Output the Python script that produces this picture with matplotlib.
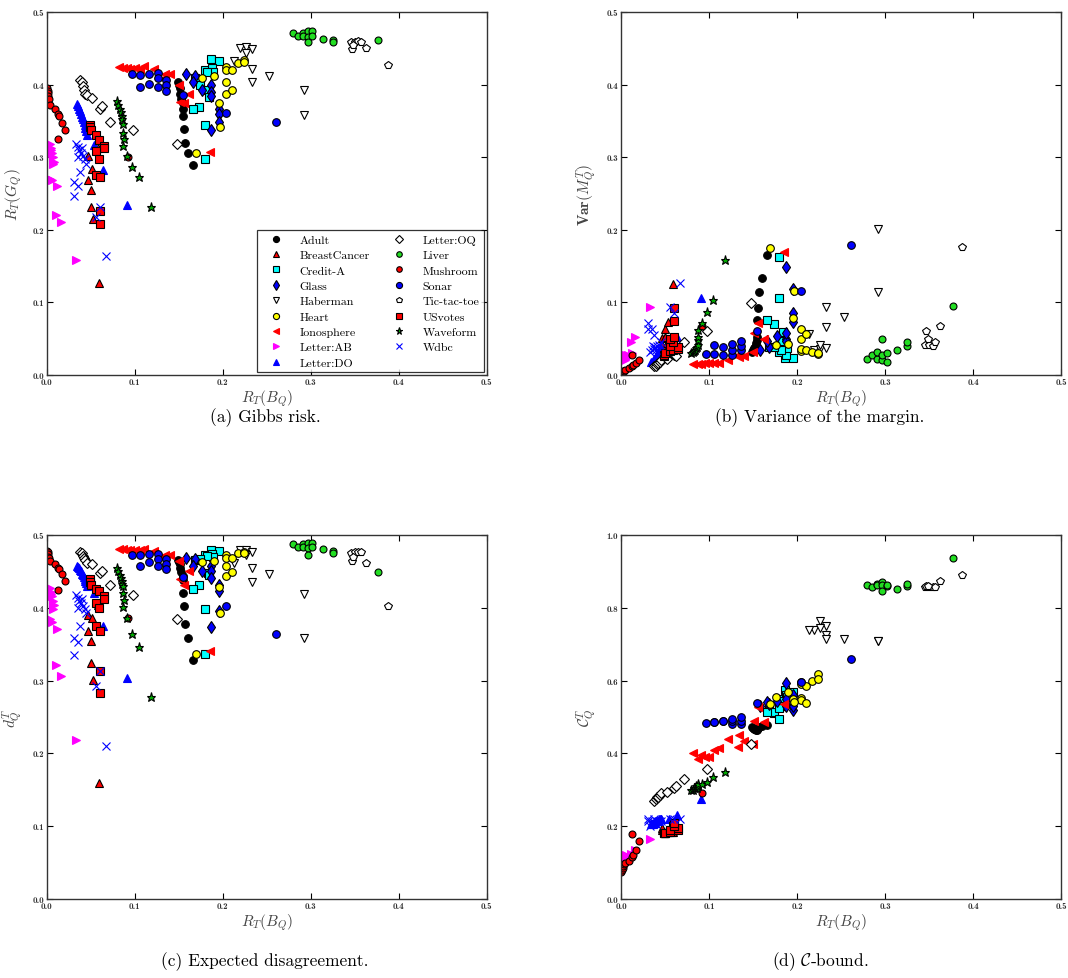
import matplotlib
matplotlib.use('Agg')
import matplotlib.pyplot as plt
from matplotlib.ticker import FormatStrFormatter, MultipleLocator

plt.rcParams['font.family'] = 'serif'
plt.rcParams['font.serif'] = ['cmr10']
plt.rcParams['mathtext.fontset'] = 'cm'
plt.rcParams['axes.unicode_minus'] = False
plt.rcParams['axes.formatter.use_mathtext'] = True

# per dataset: x = R_T(B_Q), g = Gibbs risk, v = margin variance,
# d = expected disagreement, c = C-bound
x_adult = [0.149, 0.150, 0.151, 0.152, 0.153, 0.1546, 0.1546, 0.155, 0.156, 0.157, 0.160, 0.166]
g_adult = [0.404, 0.400, 0.396, 0.387, 0.380, 0.374, 0.367, 0.357, 0.339, 0.320, 0.306, 0.2895]
v_adult = [0.031, 0.034, 0.037, 0.039, 0.044, 0.048, 0.053, 0.076, 0.092, 0.114, 0.133, 0.165]
d_adult = [0.466, 0.463, 0.460, 0.455, 0.449, 0.444, 0.438, 0.421, 0.402, 0.378, 0.358, 0.328]
c_adult = [0.473, 0.470, 0.468, 0.466, 0.465, 0.465, 0.466, 0.468, 0.470, 0.472, 0.475, 0.478]

x_breast = [0.047, 0.052, 0.058, 0.047, 0.050, 0.050, 0.053, 0.059]
g_breast = [0.302, 0.284, 0.312, 0.269, 0.255, 0.232, 0.215, 0.127]
v_breast = [0.042, 0.044, 0.030, 0.051, 0.052, 0.063, 0.073, 0.126]
d_breast = [0.390, 0.386, 0.404, 0.368, 0.354, 0.324, 0.301, 0.159]
c_breast = [0.190, 0.185, 0.185, 0.195, 0.180, 0.180, 0.183, 0.184]

x_credit = [0.1864, 0.196, 0.180, 0.1875, 0.189, 0.182, 0.1686, 0.1742, 0.183, 0.184, 0.1735, 0.166, 0.180, 0.180]
g_credit = [0.435, 0.433, 0.420, 0.423, 0.417, 0.418, 0.409, 0.399, 0.392, 0.383, 0.369, 0.367, 0.345, 0.297]
v_credit = [0.023, 0.024, 0.031, 0.028, 0.037, 0.034, 0.038, 0.038, 0.047, 0.059, 0.070, 0.076, 0.106, 0.163]
d_credit = [0.480, 0.478, 0.472, 0.474, 0.470, 0.471, 0.466, 0.467, 0.448, 0.445, 0.432, 0.426, 0.399, 0.337]
c_credit = [0.575, 0.570, 0.550, 0.560, 0.555, 0.545, 0.520, 0.510, 0.530, 0.530, 0.515, 0.515, 0.525, 0.494]

x_glass = [0.158, 0.168, 0.166, 0.177, 0.187, 0.187, 0.187, 0.196, 0.196, 0.196, 0.187]
g_glass = [0.414, 0.412, 0.404, 0.392, 0.399, 0.390, 0.384, 0.367, 0.360, 0.348, 0.338]
v_glass = [0.035, 0.038, 0.047, 0.054, 0.050, 0.047, 0.058, 0.073, 0.086, 0.119, 0.149]
d_glass = [0.468, 0.467, 0.458, 0.450, 0.457, 0.450, 0.441, 0.432, 0.423, 0.395, 0.373]
c_glass = [0.530, 0.535, 0.540, 0.545, 0.535, 0.530, 0.550, 0.520, 0.530, 0.560, 0.593]

x_haberman = [0.2197, 0.2265, 0.233, 0.2265, 0.2133, 0.233, 0.233, 0.253, 0.2925, 0.2925]
g_haberman = [0.450, 0.452, 0.4485, 0.443, 0.4325, 0.422, 0.404, 0.412, 0.392, 0.3575]
v_haberman = [0.035, 0.036, 0.037, 0.042, 0.057, 0.066, 0.093, 0.080, 0.115, 0.201]
d_haberman = [0.480, 0.480, 0.477, 0.472, 0.462, 0.455, 0.436, 0.446, 0.419, 0.359]
c_haberman = [0.740, 0.765, 0.750, 0.745, 0.740, 0.725, 0.715, 0.715, 0.710, 0.708]

x_heart = [0.176, 0.190, 0.204, 0.204, 0.210, 0.217, 0.224, 0.224, 0.204, 0.204, 0.210, 0.196, 0.197, 0.1697]
g_heart = [0.409, 0.412, 0.424, 0.420, 0.420, 0.430, 0.434, 0.431, 0.404, 0.387, 0.3925, 0.374, 0.342, 0.306]
v_heart = [0.042, 0.043, 0.033, 0.036, 0.035, 0.031, 0.029, 0.030, 0.050, 0.063, 0.057, 0.079, 0.116, 0.175]
d_heart = [0.463, 0.464, 0.472, 0.469, 0.469, 0.475, 0.477, 0.475, 0.457, 0.443, 0.449, 0.429, 0.393, 0.337]
c_heart = [0.555, 0.570, 0.596, 0.590, 0.584, 0.600, 0.617, 0.605, 0.552, 0.547, 0.538, 0.550, 0.540, 0.535]

x_iono = [0.082, 0.087, 0.091, 0.095, 0.100, 0.106, 0.111, 0.122, 0.133, 0.1345, 0.140, 0.150, 0.162, 0.1515, 0.156, 0.185]
g_iono = [0.424, 0.423, 0.423, 0.422, 0.423, 0.422, 0.425, 0.422, 0.409, 0.414, 0.414, 0.400, 0.387, 0.376, 0.375, 0.307]
v_iono = [0.015, 0.015, 0.015, 0.016, 0.016, 0.017, 0.016, 0.020, 0.027, 0.025, 0.026, 0.032, 0.049, 0.058, 0.072, 0.170]
d_iono = [0.481, 0.481, 0.480, 0.480, 0.480, 0.479, 0.481, 0.478, 0.470, 0.472, 0.473, 0.464, 0.450, 0.440, 0.432, 0.340]
c_iono = [0.400, 0.385, 0.395, 0.390, 0.390, 0.410, 0.415, 0.440, 0.418, 0.450, 0.435, 0.425, 0.487, 0.490, 0.528, 0.535]

x_ab = [0.004, 0.005, 0.006, 0.007, 0.008, 0.005, 0.007, 0.004, 0.006, 0.012, 0.011, 0.016, 0.033]
g_ab = [0.318, 0.313, 0.306, 0.300, 0.293, 0.310, 0.290, 0.270, 0.268, 0.261, 0.221, 0.211, 0.158]
v_ab = [0.020, 0.022, 0.024, 0.026, 0.028, 0.023, 0.025, 0.025, 0.028, 0.030, 0.045, 0.052, 0.093]
d_ab = [0.427, 0.422, 0.416, 0.410, 0.404, 0.419, 0.399, 0.385, 0.380, 0.371, 0.322, 0.307, 0.219]
c_ab = [0.100, 0.100, 0.105, 0.110, 0.115, 0.105, 0.110, 0.115, 0.120, 0.120, 0.125, 0.135, 0.165]

x_do = [0.034, 0.036, 0.037, 0.038, 0.039, 0.040, 0.041, 0.042, 0.043, 0.044, 0.045, 0.046, 0.054, 0.064, 0.091]
g_do = [0.373, 0.370, 0.367, 0.364, 0.360, 0.356, 0.352, 0.348, 0.344, 0.340, 0.336, 0.330, 0.317, 0.282, 0.234]
v_do = [0.018, 0.019, 0.020, 0.022, 0.024, 0.026, 0.028, 0.030, 0.031, 0.033, 0.035, 0.037, 0.040, 0.053, 0.106]
d_do = [0.458, 0.456, 0.454, 0.452, 0.450, 0.447, 0.445, 0.442, 0.440, 0.437, 0.434, 0.430, 0.420, 0.375, 0.304]
c_do = [0.205, 0.205, 0.210, 0.210, 0.210, 0.215, 0.215, 0.215, 0.220, 0.220, 0.220, 0.220, 0.220, 0.230, 0.276]

x_oq = [0.038, 0.040, 0.041, 0.042, 0.044, 0.046, 0.052, 0.060, 0.0625, 0.072, 0.098, 0.148]
g_oq = [0.407, 0.403, 0.398, 0.393, 0.387, 0.385, 0.381, 0.367, 0.370, 0.348, 0.337, 0.318]
v_oq = [0.012, 0.013, 0.015, 0.016, 0.018, 0.020, 0.022, 0.028, 0.026, 0.046, 0.060, 0.099]
d_oq = [0.477, 0.475, 0.471, 0.468, 0.465, 0.462, 0.460, 0.448, 0.451, 0.431, 0.417, 0.385]
c_oq = [0.270, 0.275, 0.280, 0.280, 0.285, 0.290, 0.295, 0.305, 0.310, 0.330, 0.358, 0.425]

x_liver = [0.2796, 0.2852, 0.291, 0.291, 0.2966, 0.2966, 0.2966, 0.302, 0.302, 0.3137, 0.325, 0.325, 0.377]
g_liver = [0.4715, 0.467, 0.4715, 0.467, 0.4733, 0.4656, 0.4587, 0.4733, 0.467, 0.4633, 0.461, 0.4587, 0.461]
v_liver = [0.022, 0.027, 0.022, 0.031, 0.020, 0.028, 0.050, 0.018, 0.030, 0.034, 0.040, 0.045, 0.095]
d_liver = [0.487, 0.484, 0.487, 0.483, 0.4886, 0.482, 0.472, 0.4886, 0.484, 0.481, 0.478, 0.475, 0.4496]
c_liver = [0.862, 0.858, 0.865, 0.862, 0.870, 0.862, 0.846, 0.860, 0.862, 0.852, 0.860, 0.866, 0.937]

x_mush = [0.000, 0.001, 0.002, 0.002, 0.003, 0.004, 0.0095, 0.013, 0.014, 0.017, 0.021, 0.013, 0.092]
g_mush = [0.395, 0.391, 0.388, 0.384, 0.380, 0.372, 0.366, 0.360, 0.357, 0.347, 0.338, 0.325, 0.300]
v_mush = [0.002, 0.003, 0.004, 0.005, 0.006, 0.007, 0.009, 0.013, 0.014, 0.016, 0.020, 0.027, 0.067]
d_mush = [0.478, 0.476, 0.474, 0.470, 0.468, 0.464, 0.460, 0.455, 0.453, 0.446, 0.437, 0.425, 0.386]
c_mush = [0.075, 0.080, 0.085, 0.090, 0.095, 0.100, 0.105, 0.115, 0.120, 0.135, 0.160, 0.178, 0.292]

x_sonar = [0.0966, 0.106, 0.106, 0.116, 0.116, 0.126, 0.126, 0.126, 0.136, 0.136, 0.136, 0.1545, 0.204, 0.261]
g_sonar = [0.414, 0.413, 0.397, 0.415, 0.401, 0.416, 0.409, 0.397, 0.407, 0.400, 0.391, 0.385, 0.361, 0.348]
v_sonar = [0.029, 0.029, 0.041, 0.027, 0.038, 0.028, 0.034, 0.043, 0.034, 0.040, 0.047, 0.061, 0.116, 0.179]
d_sonar = [0.472, 0.472, 0.458, 0.474, 0.463, 0.474, 0.467, 0.458, 0.467, 0.460, 0.453, 0.442, 0.403, 0.364]
c_sonar = [0.483, 0.485, 0.485, 0.490, 0.490, 0.480, 0.490, 0.495, 0.480, 0.490, 0.500, 0.538, 0.596, 0.659]

x_ttt = [0.3455, 0.3466, 0.350, 0.354, 0.357, 0.3485, 0.3629, 0.3875]
g_ttt = [0.459, 0.4495, 0.459, 0.460, 0.459, 0.454, 0.4508, 0.4274]
v_ttt = [0.041, 0.061, 0.042, 0.040, 0.045, 0.050, 0.068, 0.176]
d_ttt = [0.4757, 0.4642, 0.476, 0.4766, 0.476, 0.470, 0.461, 0.402]
c_ttt = [0.856, 0.860, 0.858, 0.857, 0.858, 0.860, 0.875, 0.891]

x_votes = [0.049, 0.049, 0.050, 0.056, 0.0595, 0.065, 0.065, 0.0557, 0.0595, 0.0557, 0.0605, 0.060, 0.060]
g_votes = [0.345, 0.341, 0.337, 0.330, 0.324, 0.316, 0.312, 0.309, 0.298, 0.275, 0.273, 0.226, 0.208]
v_votes = [0.026, 0.028, 0.030, 0.033, 0.035, 0.036, 0.038, 0.040, 0.045, 0.049, 0.052, 0.074, 0.092]
d_votes = [0.439, 0.435, 0.431, 0.426, 0.423, 0.416, 0.412, 0.407, 0.400, 0.375, 0.368, 0.313, 0.283]
c_votes = [0.180, 0.180, 0.180, 0.185, 0.190, 0.190, 0.195, 0.190, 0.200, 0.190, 0.200, 0.200, 0.210]

x_wave = [0.080, 0.0815, 0.083, 0.084, 0.0856, 0.086, 0.087, 0.087, 0.088, 0.087, 0.0917, 0.0973, 0.105, 0.1186]
g_wave = [0.377, 0.372, 0.367, 0.362, 0.357, 0.352, 0.346, 0.334, 0.325, 0.315, 0.302, 0.286, 0.273, 0.231]
v_wave = [0.030, 0.031, 0.033, 0.035, 0.037, 0.039, 0.042, 0.048, 0.052, 0.062, 0.071, 0.087, 0.103, 0.158]
d_wave = [0.455, 0.450, 0.445, 0.441, 0.437, 0.433, 0.430, 0.420, 0.411, 0.401, 0.386, 0.364, 0.346, 0.277]
c_wave = [0.300, 0.300, 0.305, 0.305, 0.310, 0.305, 0.310, 0.310, 0.310, 0.315, 0.315, 0.322, 0.334, 0.350]

x_wdbc = [0.033, 0.035, 0.037, 0.039, 0.041, 0.043, 0.036, 0.040, 0.045, 0.038, 0.031, 0.035, 0.031, 0.056, 0.060, 0.067]
g_wdbc = [0.318, 0.314, 0.310, 0.306, 0.302, 0.298, 0.300, 0.312, 0.290, 0.279, 0.266, 0.260, 0.246, 0.217, 0.231, 0.164]
v_wdbc = [0.032, 0.034, 0.036, 0.038, 0.040, 0.042, 0.040, 0.035, 0.046, 0.055, 0.063, 0.064, 0.072, 0.094, 0.085, 0.127]
d_wdbc = [0.417, 0.414, 0.410, 0.406, 0.402, 0.398, 0.400, 0.412, 0.393, 0.375, 0.359, 0.353, 0.335, 0.293, 0.313, 0.210]
c_wdbc = [0.200, 0.205, 0.210, 0.210, 0.215, 0.215, 0.205, 0.205, 0.215, 0.220, 0.220, 0.215, 0.215, 0.220, 0.220, 0.220]

datasets = [
    ('Adult', x_adult, g_adult, v_adult, d_adult, c_adult,
     dict(marker='o', mfc='black', mec='black', ms=5.5)),
    ('BreastCancer', x_breast, g_breast, v_breast, d_breast, c_breast,
     dict(marker='^', mfc='red', mec='black', ms=6)),
    ('Credit-A', x_credit, g_credit, v_credit, d_credit, c_credit,
     dict(marker='s', mfc='cyan', mec='black', ms=5.5)),
    ('Glass', x_glass, g_glass, v_glass, d_glass, c_glass,
     dict(marker='d', mfc='blue', mec='black', ms=6.5)),
    ('Haberman', x_haberman, g_haberman, v_haberman, d_haberman, c_haberman,
     dict(marker='v', mfc='white', mec='black', ms=6)),
    ('Heart', x_heart, g_heart, v_heart, d_heart, c_heart,
     dict(marker='o', mfc='yellow', mec='black', ms=5.5)),
    ('Ionosphere', x_iono, g_iono, v_iono, d_iono, c_iono,
     dict(marker='<', mfc='red', mec='red', ms=5.5)),
    ('Letter:AB', x_ab, g_ab, v_ab, d_ab, c_ab,
     dict(marker='>', mfc='magenta', mec='magenta', ms=5.5)),
    ('Letter:DO', x_do, g_do, v_do, d_do, c_do,
     dict(marker='^', mfc='blue', mec='blue', ms=5.5)),
    ('Letter:OQ', x_oq, g_oq, v_oq, d_oq, c_oq,
     dict(marker='D', mfc='white', mec='black', ms=5.5)),
    ('Liver', x_liver, g_liver, v_liver, d_liver, c_liver,
     dict(marker='o', mfc='#22dd22', mec='black', ms=5)),
    ('Mushroom', x_mush, g_mush, v_mush, d_mush, c_mush,
     dict(marker='o', mfc='red', mec='black', ms=5)),
    ('Sonar', x_sonar, g_sonar, v_sonar, d_sonar, c_sonar,
     dict(marker='o', mfc='blue', mec='black', ms=5.5)),
    ('Tic-tac-toe', x_ttt, g_ttt, v_ttt, d_ttt, c_ttt,
     dict(marker='p', mfc='white', mec='black', ms=5.5)),
    ('USvotes', x_votes, g_votes, v_votes, d_votes, c_votes,
     dict(marker='s', mfc='red', mec='black', ms=5.5)),
    ('Waveform', x_wave, g_wave, v_wave, d_wave, c_wave,
     dict(marker='*', mfc='#00aa00', mec='black', ms=6.5)),
    ('Wdbc', x_wdbc, g_wdbc, v_wdbc, d_wdbc, c_wdbc,
     dict(marker='x', mfc='blue', mec='blue', ms=5.5)),
]

fig = plt.figure(figsize=(10.68, 9.79), dpi=100)
w, h = 440 / 1068, 363 / 979
ax_a = fig.add_axes([46.7 / 1068, 1 - 376 / 979, w, h])
ax_b = fig.add_axes([621 / 1068, 1 - 376 / 979, w, h])
ax_c = fig.add_axes([46.7 / 1068, 1 - 900 / 979, w, 364 / 979])
ax_d = fig.add_axes([621 / 1068, 1 - 900 / 979, w, 364 / 979])

panels = [
    (ax_a, 2, r'$R_T(G_Q)$', 0.5),
    (ax_b, 3, r'$\mathbf{Var}(M_Q^T)$', 0.5),
    (ax_c, 4, r'$d_Q^T$', 0.5),
    (ax_d, 5, r'$\mathcal{C}_Q^T$', 1.0),
]

label_color = '#444444'
for ax, col, ylab, ymax in panels:
    for row in datasets:
        name, xs, ys, style = row[0], row[1], row[col], row[6]
        ax.plot(xs, ys, linestyle='none', mew=0.8, label=name, **style)
    ax.set_xlim(0, 0.5)
    ax.set_ylim(0, ymax)
    ax.xaxis.set_major_locator(MultipleLocator(0.1))
    ax.yaxis.set_major_locator(MultipleLocator(ymax / 5))
    ax.xaxis.set_major_formatter(FormatStrFormatter('%.1f'))
    ax.yaxis.set_major_formatter(FormatStrFormatter('%.1f'))
    ax.tick_params(direction='in', top=True, right=True, length=4, width=0.8,
                   labelsize=6.5, labelcolor='#333333', pad=2,
                   labelfontfamily='cmb10')
    for sp in ax.spines.values():
        sp.set_color('#333333')
        sp.set_linewidth(1.0)
    ax.set_xlabel(r'$R_T(B_Q)$', fontsize=11, color=label_color, labelpad=1)
    ax.set_ylabel(ylab, fontsize=11, color=label_color, labelpad=6)

leg = ax_a.legend(loc='lower right', ncol=2, numpoints=1, fontsize=8.6,
                  frameon=True, fancybox=False, edgecolor='black',
                  borderaxespad=0.25, markerscale=0.8, handlelength=2.4,
                  columnspacing=1.2, labelspacing=0.42, borderpad=0.35)
leg.get_frame().set_linewidth(0.9)

captions = [
    (265, 418, '(a) Gibbs risk.'),
    (820, 418, '(b) Variance of the margin.'),
    (265, 962, '(c) Expected disagreement.'),
    (820, 962, r'(d) $\mathcal{C}$-bound.'),
]
for cx, cy, txt in captions:
    fig.text(cx / 1068, 1 - cy / 979, txt, ha='center', va='center', fontsize=12.5)

fig.savefig('out.png', dpi=100)
